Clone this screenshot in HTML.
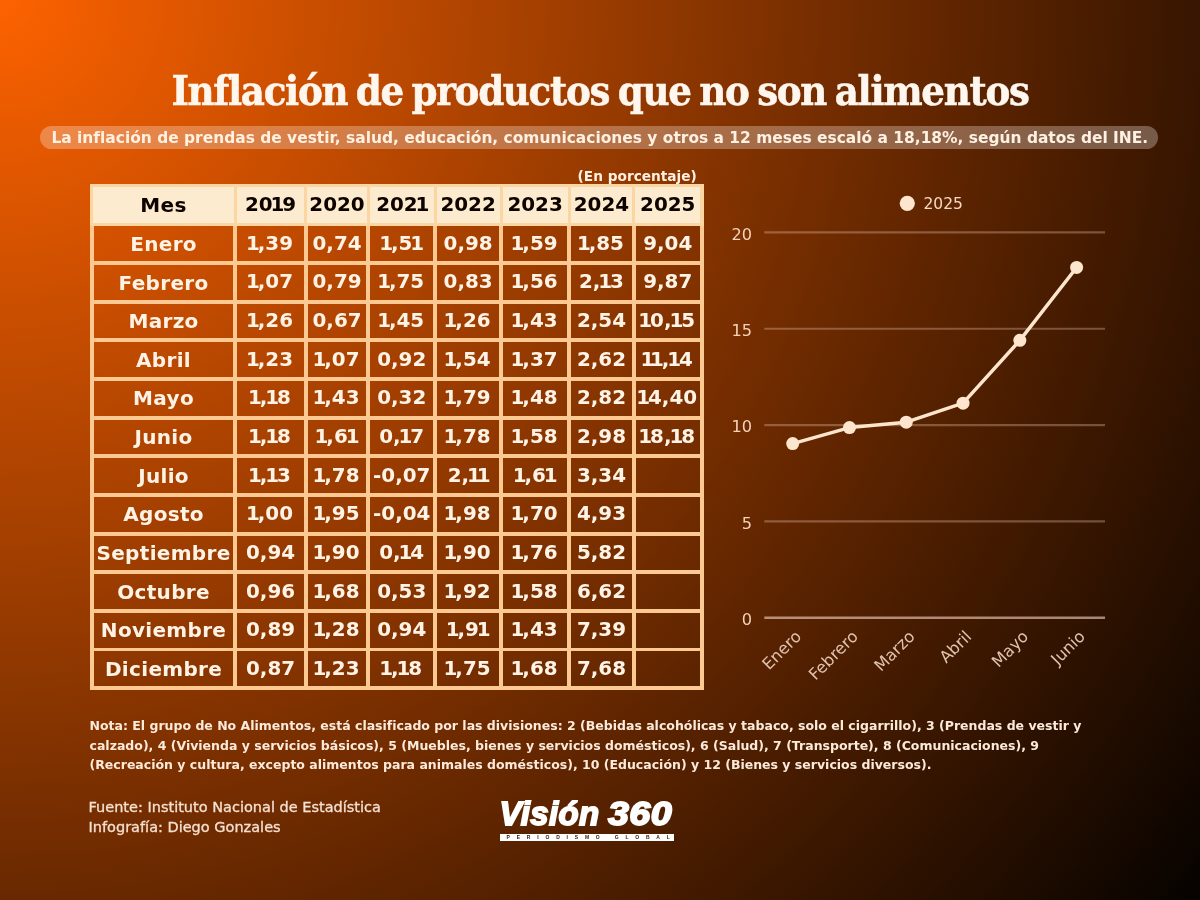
<!DOCTYPE html>
<html lang="es">
<head>
<meta charset="utf-8">
<title>Inflación de productos que no son alimentos</title>
<style>
*{box-sizing:border-box;margin:0;padding:0}
html,body{width:1200px;height:900px;overflow:hidden}
body{position:relative;font-family:"DejaVu Sans","Liberation Sans",sans-serif;color:#fff0e0;
background:#5a2300 radial-gradient(circle 1535px at 0 0,#fd6200 0%,#000000 100%)}
.abs{position:absolute}
h1{position:absolute;left:0;top:65px;width:1200px;text-align:center;font-family:"DejaVu Serif Condensed","DejaVu Serif","Liberation Serif",serif;font-stretch:condensed;font-weight:bold;font-size:41.4px;line-height:52px;letter-spacing:-1.31px;word-spacing:-3px;-webkit-text-stroke:.5px #fff6ee;color:#fff6ee;white-space:nowrap}
.pill{position:absolute;left:39.5px;top:125.5px;width:1118px;height:23.4px;border-radius:12px;background:rgba(255,245,240,.30);text-align:center;font-weight:bold;font-size:15.45px;line-height:24.4px;color:#fff1e2;white-space:nowrap;padding-left:2.6px}
.enp{position:absolute;left:540px;width:156.8px;top:166.6px;text-align:right;font-weight:bold;font-size:13.7px;line-height:18px;color:#fff0e0}
.tbl{position:absolute;left:89.85px;top:183.9px;width:613.8px;height:506.25px}
.tbl .hd{position:absolute;background:#fdebd0}
.tbl .ln{position:absolute;background:#fdc992}
.tbl .hl{position:absolute;background:#fcd6a2}
.tbl .c{position:absolute;display:flex;align-items:center;justify-content:center;font-weight:bold;font-size:20px;letter-spacing:.32px;white-space:nowrap;color:#fff3e6;padding-top:.2px}
.tbl .c.h{color:#0d0400}
.tbl .c.n{font-size:19.9px;letter-spacing:0;padding-top:0;padding-bottom:.9px}
.tbl .c.n i{font-style:normal;margin:0 -2.1px}
.note{position:absolute;left:89.5px;top:716px;width:1060px;font-weight:bold;font-size:12.5px;line-height:19.5px;color:#fdeadb;white-space:nowrap}
.src{position:absolute;left:88.5px;top:796.8px;-webkit-text-stroke:.3px #f6e0d0;font-size:14.5px;line-height:20.5px;color:#f6e0d0;white-space:nowrap}
.logo{position:absolute;left:498px;top:797.4px;width:178px}
.logo .v{font-family:"Liberation Sans","DejaVu Sans",sans-serif;font-weight:bold;font-style:italic;font-size:33px;line-height:34px;color:#fff;white-space:nowrap;-webkit-text-stroke:1.8px #fff;letter-spacing:.35px;padding-left:1.6px}
.logo .v span{display:inline-block;transform:scaleX(1.14);transform-origin:0 50%;margin-left:-.9px}
.logo .b{position:absolute;left:1.8px;top:36.3px;width:174.4px;height:7.2px;background:#fff;color:#3a1600;font-family:"Liberation Sans",sans-serif;font-weight:bold;font-size:5px;line-height:7px;letter-spacing:6.8px;text-align:center;white-space:nowrap;overflow:hidden;padding-left:6.8px}
svg text{font-family:"DejaVu Sans","Liberation Sans",sans-serif}
</style>
</head>
<body>
<h1>Inflación de productos que no son alimentos</h1>
<div class="pill">La inflación de prendas de vestir, salud, educación, comunicaciones y otros a 12 meses escaló a 18,18%, según datos del INE.</div>
<div class="enp">(En porcentaje)</div>

<div class="tbl">
<div class="ln" style="left:0;top:0.00px;width:613.80px;height:3.80px"></div>
<div class="ln" style="left:0;top:38.65px;width:613.80px;height:3.80px"></div>
<div class="ln" style="left:0;top:77.30px;width:613.80px;height:3.80px"></div>
<div class="ln" style="left:0;top:115.95px;width:613.80px;height:3.80px"></div>
<div class="ln" style="left:0;top:154.60px;width:613.80px;height:3.80px"></div>
<div class="ln" style="left:0;top:193.25px;width:613.80px;height:3.80px"></div>
<div class="ln" style="left:0;top:231.90px;width:613.80px;height:3.80px"></div>
<div class="ln" style="left:0;top:270.55px;width:613.80px;height:3.80px"></div>
<div class="ln" style="left:0;top:309.20px;width:613.80px;height:3.80px"></div>
<div class="ln" style="left:0;top:347.85px;width:613.80px;height:3.80px"></div>
<div class="ln" style="left:0;top:386.50px;width:613.80px;height:3.80px"></div>
<div class="ln" style="left:0;top:425.15px;width:613.80px;height:3.80px"></div>
<div class="ln" style="left:0;top:463.80px;width:613.80px;height:3.80px"></div>
<div class="ln" style="left:0;top:502.45px;width:613.80px;height:3.80px"></div>
<div class="ln" style="left:0.00px;top:0;width:3.80px;height:506.25px"></div>
<div class="ln" style="left:143.60px;top:0;width:3.80px;height:506.25px"></div>
<div class="ln" style="left:214.00px;top:0;width:3.80px;height:506.25px"></div>
<div class="ln" style="left:276.60px;top:0;width:3.80px;height:506.25px"></div>
<div class="ln" style="left:343.40px;top:0;width:3.80px;height:506.25px"></div>
<div class="ln" style="left:409.40px;top:0;width:3.80px;height:506.25px"></div>
<div class="ln" style="left:477.40px;top:0;width:3.80px;height:506.25px"></div>
<div class="ln" style="left:542.00px;top:0;width:3.80px;height:506.25px"></div>
<div class="ln" style="left:610.00px;top:0;width:3.80px;height:506.25px"></div>
<div class="hl" style="left:0;top:0;width:613.80px;height:42.45px"></div>
<div class="hd" style="left:3.50px;top:3.50px;width:140.40px;height:35.45px"></div>
<div class="hd" style="left:147.10px;top:3.50px;width:67.20px;height:35.45px"></div>
<div class="hd" style="left:217.50px;top:3.50px;width:59.40px;height:35.45px"></div>
<div class="hd" style="left:280.10px;top:3.50px;width:63.60px;height:35.45px"></div>
<div class="hd" style="left:346.90px;top:3.50px;width:62.80px;height:35.45px"></div>
<div class="hd" style="left:412.90px;top:3.50px;width:64.80px;height:35.45px"></div>
<div class="hd" style="left:480.90px;top:3.50px;width:61.40px;height:35.45px"></div>
<div class="hd" style="left:545.50px;top:3.50px;width:64.80px;height:35.45px"></div>
<div class="c h" style="left:3.80px;top:3.80px;width:139.80px;height:34.85px">Mes</div>
<div class="c h n" style="left:147.40px;top:3.80px;width:66.60px;height:34.85px">20<i>1</i>9</div>
<div class="c h n" style="left:217.80px;top:3.80px;width:58.80px;height:34.85px">2020</div>
<div class="c h n" style="left:280.40px;top:3.80px;width:63.00px;height:34.85px">202<i>1</i></div>
<div class="c h n" style="left:347.20px;top:3.80px;width:62.20px;height:34.85px">2022</div>
<div class="c h n" style="left:413.20px;top:3.80px;width:64.20px;height:34.85px">2023</div>
<div class="c h n" style="left:481.20px;top:3.80px;width:60.80px;height:34.85px">2024</div>
<div class="c h n" style="left:545.80px;top:3.80px;width:64.20px;height:34.85px">2025</div>
<div class="c " style="left:3.80px;top:42.45px;width:139.80px;height:34.85px">Enero</div>
<div class="c n" style="left:147.40px;top:42.45px;width:66.60px;height:34.85px"><i>1</i>,39</div>
<div class="c n" style="left:217.80px;top:42.45px;width:58.80px;height:34.85px">0,74</div>
<div class="c n" style="left:280.40px;top:42.45px;width:63.00px;height:34.85px"><i>1</i>,5<i>1</i></div>
<div class="c n" style="left:347.20px;top:42.45px;width:62.20px;height:34.85px">0,98</div>
<div class="c n" style="left:413.20px;top:42.45px;width:64.20px;height:34.85px"><i>1</i>,59</div>
<div class="c n" style="left:481.20px;top:42.45px;width:60.80px;height:34.85px"><i>1</i>,85</div>
<div class="c n" style="left:545.80px;top:42.45px;width:64.20px;height:34.85px">9,04</div>
<div class="c " style="left:3.80px;top:81.10px;width:139.80px;height:34.85px">Febrero</div>
<div class="c n" style="left:147.40px;top:81.10px;width:66.60px;height:34.85px"><i>1</i>,07</div>
<div class="c n" style="left:217.80px;top:81.10px;width:58.80px;height:34.85px">0,79</div>
<div class="c n" style="left:280.40px;top:81.10px;width:63.00px;height:34.85px"><i>1</i>,75</div>
<div class="c n" style="left:347.20px;top:81.10px;width:62.20px;height:34.85px">0,83</div>
<div class="c n" style="left:413.20px;top:81.10px;width:64.20px;height:34.85px"><i>1</i>,56</div>
<div class="c n" style="left:481.20px;top:81.10px;width:60.80px;height:34.85px">2,<i>1</i>3</div>
<div class="c n" style="left:545.80px;top:81.10px;width:64.20px;height:34.85px">9,87</div>
<div class="c " style="left:3.80px;top:119.75px;width:139.80px;height:34.85px">Marzo</div>
<div class="c n" style="left:147.40px;top:119.75px;width:66.60px;height:34.85px"><i>1</i>,26</div>
<div class="c n" style="left:217.80px;top:119.75px;width:58.80px;height:34.85px">0,67</div>
<div class="c n" style="left:280.40px;top:119.75px;width:63.00px;height:34.85px"><i>1</i>,45</div>
<div class="c n" style="left:347.20px;top:119.75px;width:62.20px;height:34.85px"><i>1</i>,26</div>
<div class="c n" style="left:413.20px;top:119.75px;width:64.20px;height:34.85px"><i>1</i>,43</div>
<div class="c n" style="left:481.20px;top:119.75px;width:60.80px;height:34.85px">2,54</div>
<div class="c n" style="left:545.80px;top:119.75px;width:64.20px;height:34.85px"><i>1</i>0,<i>1</i>5</div>
<div class="c " style="left:3.80px;top:158.40px;width:139.80px;height:34.85px">Abril</div>
<div class="c n" style="left:147.40px;top:158.40px;width:66.60px;height:34.85px"><i>1</i>,23</div>
<div class="c n" style="left:217.80px;top:158.40px;width:58.80px;height:34.85px"><i>1</i>,07</div>
<div class="c n" style="left:280.40px;top:158.40px;width:63.00px;height:34.85px">0,92</div>
<div class="c n" style="left:347.20px;top:158.40px;width:62.20px;height:34.85px"><i>1</i>,54</div>
<div class="c n" style="left:413.20px;top:158.40px;width:64.20px;height:34.85px"><i>1</i>,37</div>
<div class="c n" style="left:481.20px;top:158.40px;width:60.80px;height:34.85px">2,62</div>
<div class="c n" style="left:545.80px;top:158.40px;width:64.20px;height:34.85px"><i>1</i><i>1</i>,<i>1</i>4</div>
<div class="c " style="left:3.80px;top:197.05px;width:139.80px;height:34.85px">Mayo</div>
<div class="c n" style="left:147.40px;top:197.05px;width:66.60px;height:34.85px"><i>1</i>,<i>1</i>8</div>
<div class="c n" style="left:217.80px;top:197.05px;width:58.80px;height:34.85px"><i>1</i>,43</div>
<div class="c n" style="left:280.40px;top:197.05px;width:63.00px;height:34.85px">0,32</div>
<div class="c n" style="left:347.20px;top:197.05px;width:62.20px;height:34.85px"><i>1</i>,79</div>
<div class="c n" style="left:413.20px;top:197.05px;width:64.20px;height:34.85px"><i>1</i>,48</div>
<div class="c n" style="left:481.20px;top:197.05px;width:60.80px;height:34.85px">2,82</div>
<div class="c n" style="left:545.80px;top:197.05px;width:64.20px;height:34.85px"><i>1</i>4,40</div>
<div class="c " style="left:3.80px;top:235.70px;width:139.80px;height:34.85px">Junio</div>
<div class="c n" style="left:147.40px;top:235.70px;width:66.60px;height:34.85px"><i>1</i>,<i>1</i>8</div>
<div class="c n" style="left:217.80px;top:235.70px;width:58.80px;height:34.85px"><i>1</i>,6<i>1</i></div>
<div class="c n" style="left:280.40px;top:235.70px;width:63.00px;height:34.85px">0,<i>1</i>7</div>
<div class="c n" style="left:347.20px;top:235.70px;width:62.20px;height:34.85px"><i>1</i>,78</div>
<div class="c n" style="left:413.20px;top:235.70px;width:64.20px;height:34.85px"><i>1</i>,58</div>
<div class="c n" style="left:481.20px;top:235.70px;width:60.80px;height:34.85px">2,98</div>
<div class="c n" style="left:545.80px;top:235.70px;width:64.20px;height:34.85px"><i>1</i>8,<i>1</i>8</div>
<div class="c " style="left:3.80px;top:274.35px;width:139.80px;height:34.85px">Julio</div>
<div class="c n" style="left:147.40px;top:274.35px;width:66.60px;height:34.85px"><i>1</i>,<i>1</i>3</div>
<div class="c n" style="left:217.80px;top:274.35px;width:58.80px;height:34.85px"><i>1</i>,78</div>
<div class="c n" style="left:280.40px;top:274.35px;width:63.00px;height:34.85px">-0,07</div>
<div class="c n" style="left:347.20px;top:274.35px;width:62.20px;height:34.85px">2,<i>1</i><i>1</i></div>
<div class="c n" style="left:413.20px;top:274.35px;width:64.20px;height:34.85px"><i>1</i>,6<i>1</i></div>
<div class="c n" style="left:481.20px;top:274.35px;width:60.80px;height:34.85px">3,34</div>
<div class="c " style="left:3.80px;top:313.00px;width:139.80px;height:34.85px">Agosto</div>
<div class="c n" style="left:147.40px;top:313.00px;width:66.60px;height:34.85px"><i>1</i>,00</div>
<div class="c n" style="left:217.80px;top:313.00px;width:58.80px;height:34.85px"><i>1</i>,95</div>
<div class="c n" style="left:280.40px;top:313.00px;width:63.00px;height:34.85px">-0,04</div>
<div class="c n" style="left:347.20px;top:313.00px;width:62.20px;height:34.85px"><i>1</i>,98</div>
<div class="c n" style="left:413.20px;top:313.00px;width:64.20px;height:34.85px"><i>1</i>,70</div>
<div class="c n" style="left:481.20px;top:313.00px;width:60.80px;height:34.85px">4,93</div>
<div class="c " style="left:3.80px;top:351.65px;width:139.80px;height:34.85px">Septiembre</div>
<div class="c n" style="left:147.40px;top:351.65px;width:66.60px;height:34.85px">0,94</div>
<div class="c n" style="left:217.80px;top:351.65px;width:58.80px;height:34.85px"><i>1</i>,90</div>
<div class="c n" style="left:280.40px;top:351.65px;width:63.00px;height:34.85px">0,<i>1</i>4</div>
<div class="c n" style="left:347.20px;top:351.65px;width:62.20px;height:34.85px"><i>1</i>,90</div>
<div class="c n" style="left:413.20px;top:351.65px;width:64.20px;height:34.85px"><i>1</i>,76</div>
<div class="c n" style="left:481.20px;top:351.65px;width:60.80px;height:34.85px">5,82</div>
<div class="c " style="left:3.80px;top:390.30px;width:139.80px;height:34.85px">Octubre</div>
<div class="c n" style="left:147.40px;top:390.30px;width:66.60px;height:34.85px">0,96</div>
<div class="c n" style="left:217.80px;top:390.30px;width:58.80px;height:34.85px"><i>1</i>,68</div>
<div class="c n" style="left:280.40px;top:390.30px;width:63.00px;height:34.85px">0,53</div>
<div class="c n" style="left:347.20px;top:390.30px;width:62.20px;height:34.85px"><i>1</i>,92</div>
<div class="c n" style="left:413.20px;top:390.30px;width:64.20px;height:34.85px"><i>1</i>,58</div>
<div class="c n" style="left:481.20px;top:390.30px;width:60.80px;height:34.85px">6,62</div>
<div class="c " style="left:3.80px;top:428.95px;width:139.80px;height:34.85px">Noviembre</div>
<div class="c n" style="left:147.40px;top:428.95px;width:66.60px;height:34.85px">0,89</div>
<div class="c n" style="left:217.80px;top:428.95px;width:58.80px;height:34.85px"><i>1</i>,28</div>
<div class="c n" style="left:280.40px;top:428.95px;width:63.00px;height:34.85px">0,94</div>
<div class="c n" style="left:347.20px;top:428.95px;width:62.20px;height:34.85px"><i>1</i>,9<i>1</i></div>
<div class="c n" style="left:413.20px;top:428.95px;width:64.20px;height:34.85px"><i>1</i>,43</div>
<div class="c n" style="left:481.20px;top:428.95px;width:60.80px;height:34.85px">7,39</div>
<div class="c " style="left:3.80px;top:467.60px;width:139.80px;height:34.85px">Diciembre</div>
<div class="c n" style="left:147.40px;top:467.60px;width:66.60px;height:34.85px">0,87</div>
<div class="c n" style="left:217.80px;top:467.60px;width:58.80px;height:34.85px"><i>1</i>,23</div>
<div class="c n" style="left:280.40px;top:467.60px;width:63.00px;height:34.85px"><i>1</i>,<i>1</i>8</div>
<div class="c n" style="left:347.20px;top:467.60px;width:62.20px;height:34.85px"><i>1</i>,75</div>
<div class="c n" style="left:413.20px;top:467.60px;width:64.20px;height:34.85px"><i>1</i>,68</div>
<div class="c n" style="left:481.20px;top:467.60px;width:60.80px;height:34.85px">7,68</div>
</div>
<svg class="abs" style="left:0;top:0" width="1200" height="900" viewBox="0 0 1200 900">
<line x1="764.3" x2="1105.0" y1="232.40" y2="232.40" stroke="#ffd9c8" stroke-opacity=".3" stroke-width="2.2"/>
<line x1="764.3" x2="1105.0" y1="328.75" y2="328.75" stroke="#ffd9c8" stroke-opacity=".3" stroke-width="2.2"/>
<line x1="764.3" x2="1105.0" y1="425.10" y2="425.10" stroke="#ffd9c8" stroke-opacity=".3" stroke-width="2.2"/>
<line x1="764.3" x2="1105.0" y1="521.45" y2="521.45" stroke="#ffd9c8" stroke-opacity=".3" stroke-width="2.2"/>
<line x1="764.3" x2="1105.0" y1="617.80" y2="617.80" stroke="#ffdccd" stroke-opacity=".58" stroke-width="2.5"/>
<text x="752" y="239.50" text-anchor="end" font-size="16.2" fill="#f5d3b8">20</text>
<text x="752" y="335.85" text-anchor="end" font-size="16.2" fill="#f5d3b8">15</text>
<text x="752" y="432.20" text-anchor="end" font-size="16.2" fill="#f5d3b8">10</text>
<text x="752" y="528.55" text-anchor="end" font-size="16.2" fill="#f5d3b8">5</text>
<text x="752" y="624.90" text-anchor="end" font-size="16.2" fill="#f5d3b8">0</text>
<polyline points="792.69,443.60 849.47,427.61 906.26,422.21 963.04,403.13 1019.83,340.31 1076.61,267.47" fill="none" stroke="#fde6cd" stroke-width="3.5" stroke-linejoin="round" stroke-linecap="round"/>
<circle cx="792.69" cy="443.60" r="6.5" fill="#fde6cd"/>
<circle cx="849.47" cy="427.61" r="6.5" fill="#fde6cd"/>
<circle cx="906.26" cy="422.21" r="6.5" fill="#fde6cd"/>
<circle cx="963.04" cy="403.13" r="6.5" fill="#fde6cd"/>
<circle cx="1019.83" cy="340.31" r="6.5" fill="#fde6cd"/>
<circle cx="1076.61" cy="267.47" r="6.5" fill="#fde6cd"/>
<circle cx="907.3" cy="203.3" r="7.6" fill="#fde6cd"/>
<text x="923.5" y="209.4" font-size="16.2" fill="#f5d9c4" textLength="39.5" lengthAdjust="spacingAndGlyphs">2025</text>
<text transform="translate(802.19,637.50) rotate(-45)" text-anchor="end" font-size="16.3" fill="#e0c2ae">Enero</text>
<text transform="translate(858.97,637.50) rotate(-45)" text-anchor="end" font-size="16.3" fill="#e0c2ae">Febrero</text>
<text transform="translate(915.76,637.50) rotate(-45)" text-anchor="end" font-size="16.3" fill="#e0c2ae">Marzo</text>
<text transform="translate(972.54,637.50) rotate(-45)" text-anchor="end" font-size="16.3" fill="#e0c2ae">Abril</text>
<text transform="translate(1029.33,637.50) rotate(-45)" text-anchor="end" font-size="16.3" fill="#e0c2ae">Mayo</text>
<text transform="translate(1086.11,637.50) rotate(-45)" text-anchor="end" font-size="16.3" fill="#e0c2ae">Junio</text>
</svg>
<div class="note">Nota: El grupo de No Alimentos, está clasificado por las divisiones: 2 (Bebidas alcohólicas y tabaco, solo el cigarrillo), 3 (Prendas de vestir y<br>calzado), 4 (Vivienda y servicios básicos), 5 (Muebles, bienes y servicios domésticos), 6 (Salud), 7 (Transporte), 8 (Comunicaciones), 9<br>(Recreación y cultura, excepto alimentos para animales domésticos), 10 (Educación) y 12 (Bienes y servicios diversos).</div>
<div class="src">Fuente: Instituto Nacional de Estadística<br>Infografía: Diego Gonzales</div>
<div class="logo"><div class="v">Visión <span>360</span></div><div class="b">PERIODISMO GLOBAL</div></div>
</body>
</html>
